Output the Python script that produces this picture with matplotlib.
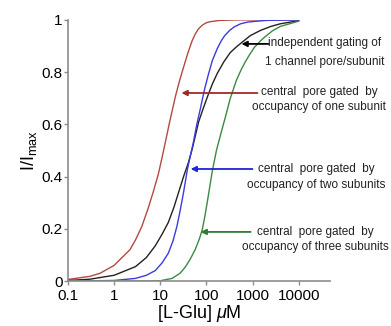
import matplotlib
matplotlib.use("Agg")
import matplotlib.pyplot as plt

plt.rcParams['font.family'] = ['Liberation Sans', 'DejaVu Sans']
plt.rcParams['mathtext.fontset'] = 'custom'
plt.rcParams['mathtext.rm'] = 'Liberation Sans'
plt.rcParams['mathtext.it'] = 'Liberation Sans:italic'

# [L-Glu] (uM) vs I/Imax
black_c = [0.1, 0.3, 1, 2.9, 5, 7.8, 11, 15, 20, 25, 32, 41, 50, 68, 85, 105, 135, 172, 240, 330, 450, 600, 900, 1500, 2500, 4000, 10000]
black_i = [0.002, 0.007, 0.022, 0.055, 0.09, 0.135, 0.18, 0.225, 0.285, 0.34, 0.40, 0.455, 0.51, 0.61, 0.66, 0.705, 0.755, 0.795, 0.84, 0.875, 0.897, 0.915, 0.94, 0.96, 0.975, 0.985, 0.997]

red_c = [0.1, 0.3, 0.5, 1, 2.2, 2.9, 4, 5.5, 7, 9.1, 11.8, 16, 21.5, 26, 31.6, 40, 49, 57, 65, 75, 85, 100, 120, 160, 200, 300, 500, 10000]
red_i = [0.006, 0.018, 0.03, 0.06, 0.12, 0.157, 0.21, 0.28, 0.34, 0.41, 0.50, 0.61, 0.71, 0.765, 0.816, 0.875, 0.92, 0.945, 0.962, 0.974, 0.982, 0.989, 0.993, 0.996, 0.998, 0.999, 1.0, 1.0]

blue_c = [0.1, 1, 2.9, 5, 7.8, 11, 15, 19, 23, 27, 32, 39, 45, 52, 62, 74, 90, 110, 135, 172, 210, 250, 320, 400, 550, 800, 2000, 10000]
blue_i = [0.0, 0.002, 0.01, 0.022, 0.04, 0.07, 0.107, 0.155, 0.21, 0.27, 0.34, 0.43, 0.48, 0.53, 0.60, 0.66, 0.73, 0.79, 0.845, 0.89, 0.92, 0.94, 0.96, 0.973, 0.985, 0.992, 0.998, 1.0]

green_c = [0.1, 5, 10, 18, 27, 35, 45, 57, 70, 81, 92, 104, 118, 134, 165, 210, 260, 330, 450, 570, 700, 900, 1100, 1500, 1860, 2700, 4000, 10000]
green_i = [0.0, 0.0, 0.001, 0.01, 0.03, 0.054, 0.085, 0.12, 0.16, 0.195, 0.245, 0.30, 0.36, 0.42, 0.50, 0.57, 0.63, 0.70, 0.77, 0.81, 0.84, 0.872, 0.895, 0.92, 0.935, 0.958, 0.975, 0.995]

xticks = [0.1, 1, 10, 100, 1000, 10000]
xticklabels = ['0.1', '1', '10', '100', '1000', '10000']
yticks = [0, 0.2, 0.4, 0.6, 0.8, 1]
yticklabels = ['0', '0.2', '0.4', '0.6', '0.8', '1']

notes = [
    (('independent gating of', '1 channel pore/subunit'), 'black'),
    (('central  pore gated  by', 'occupancy of one subunit'), '#9e2b25'),
    (('central  pore gated  by', 'occupancy of two subunits'), '#2222d8'),
    (('central  pore gated  by', 'occupancy of three subunits'), '#2e7d32'),
]
# arrow tip, arrow tail, text centre x, line y's (axes fraction)
note_pos = [
    ((0.662, 0.908), (0.765, 0.908), 0.981, (0.912, 0.840)),
    ((0.433, 0.720), (0.723, 0.720), 0.958, (0.724, 0.665)),
    ((0.468, 0.429), (0.704, 0.429), 0.947, (0.429, 0.368)),
    ((0.506, 0.188), (0.697, 0.188), 0.943, (0.188, 0.130)),
]

fig = plt.figure(figsize=(3.91, 3.26), dpi=100)
ax = fig.add_axes([0.174, 0.138, 0.670, 0.801])

ax.plot(red_c, red_i, color='#b24a42', lw=1.0)
ax.plot(black_c, black_i, color='#222222', lw=1.0)
ax.plot(blue_c, blue_i, color='#3b3be0', lw=1.0)
ax.plot(green_c, green_i, color='#3a8a42', lw=1.0)

ax.set_xscale('log')
ax.set_xlim(0.1, 10 ** 4.68)
ax.set_ylim(0, 1)
ax.set_xticks(xticks)
ax.set_xticklabels(xticklabels)
ax.minorticks_off()
ax.set_yticks(yticks)
ax.set_yticklabels(yticklabels)
ax.tick_params(labelsize=11, color='#8c8c8c', length=3, width=1, pad=1)
ax.tick_params(axis='x', pad=3)

for s in ['top', 'right']:
    ax.spines[s].set_visible(False)
for s in ['left', 'bottom']:
    ax.spines[s].set_color('#8c8c8c')
    ax.spines[s].set_linewidth(1.2)

ax.set_xlabel(r'[L-Glu] $\mu$M', fontsize=13, labelpad=0)
ax.set_ylabel(r'I/I$_{\rm max}$', fontsize=13)
ax.yaxis.set_label_coords(-0.11, 0.5)

for (lines, col), (tip, tail, tx, ty) in zip(notes, note_pos):
    ax.annotate('', xy=tip, xycoords='axes fraction', xytext=tail,
                textcoords='axes fraction',
                arrowprops=dict(arrowstyle='-|>', color=col, lw=1.3,
                                mutation_scale=8, shrinkA=0, shrinkB=0))
    for line, y in zip(lines, ty):
        ax.text(tx, y, line, transform=ax.transAxes, ha='center', va='center',
                fontsize=8.5, color='#222222', clip_on=False)

fig.savefig('out.png', dpi=100)
